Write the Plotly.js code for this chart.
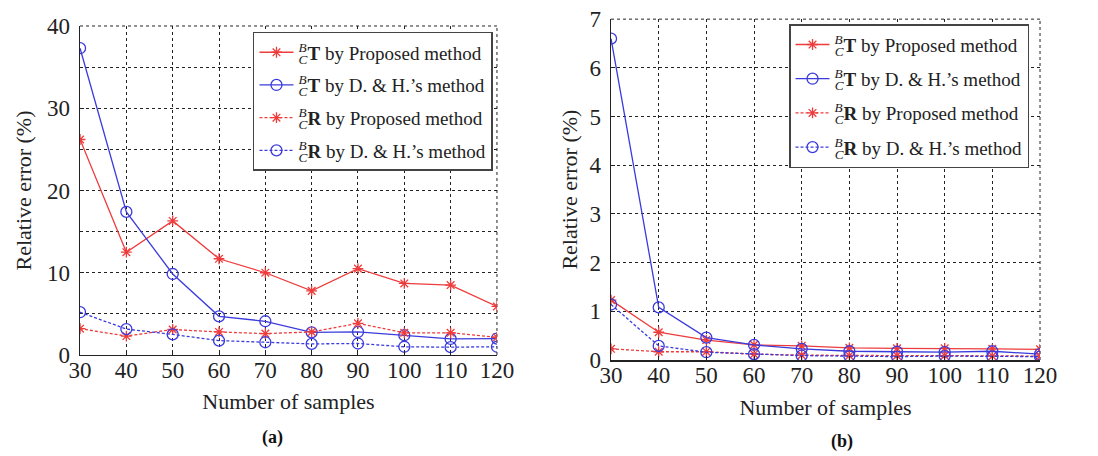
<!DOCTYPE html>
<html>
<head>
<meta charset="utf-8">
<script src="https://cdn.plot.ly/plotly-3.0.1.min.js"></script>
<style>html,body{margin:0;padding:0;background:#fff;}#chart{width:1098px;height:456px;}</style>
</head>
<body>
<div id="chart"></div>
<script>
// ---- data ----
const samples = [30, 40, 50, 60, 70, 80, 90, 100, 110, 120];
// panel (a)
const aTProposed = [26.2, 12.5, 16.3, 11.7, 10.0, 7.8, 10.5, 8.7, 8.5, 5.9];
const aTDH       = [37.3, 17.4, 9.85, 4.7, 4.1, 2.75, 2.8, 2.4, 1.95, 2.0];
const aRProposed = [3.2, 2.3, 3.1, 2.8, 2.6, 2.8, 3.85, 2.7, 2.7, 2.15];
const aRDH       = [5.2, 3.15, 2.5, 1.75, 1.55, 1.35, 1.4, 1.0, 0.95, 1.0];
// panel (b)
const bTProposed = [1.23, 0.57, 0.41, 0.31, 0.29, 0.25, 0.24, 0.24, 0.23, 0.22];
const bTDH       = [6.6, 1.08, 0.46, 0.31, 0.23, 0.18, 0.17, 0.16, 0.18, 0.12];
const bRProposed = [0.23, 0.17, 0.17, 0.12, 0.10, 0.09, 0.09, 0.09, 0.08, 0.08];
const bRDH       = [1.14, 0.29, 0.16, 0.12, 0.09, 0.08, 0.07, 0.08, 0.07, 0.07];

const xTicks = [30, 40, 50, 60, 70, 80, 90, 100, 110, 120];
const aYTicks = [0, 10, 20, 30, 40];
const bYTicks = [0, 1, 2, 3, 4, 5, 6, 7];

const seriesNames = [
  "<sup><span style='letter-spacing:-8px'><i>B</i></span></sup><sub><i>C</i></sub><b>T</b> by Proposed method",
  "<sup><span style='letter-spacing:-8px'><i>B</i></span></sup><sub><i>C</i></sub><b>T</b> by D. &amp; H.’s method",
  "<sup><span style='letter-spacing:-8px'><i>B</i></span></sup><sub><i>C</i></sub><b>R</b> by Proposed method",
  "<sup><span style='letter-spacing:-8px'><i>B</i></span></sup><sub><i>C</i></sub><b>R</b> by D. &amp; H.’s method"
];

// ---- styles ----
const RED = '#ee3b3b', BLUE = '#3b3bdd', INK = '#222';
const FONT = 'Liberation Serif, serif';
const styles = [
  {color: RED,  dash: 'solid', symbol: 'asterisk-open'},
  {color: BLUE, dash: 'solid', symbol: 'circle-open'},
  {color: RED,  dash: '3px,2px', symbol: 'asterisk-open'},
  {color: BLUE, dash: '3px,2px', symbol: 'circle-open'}
];

function mk(y, i, xa, ya, leg) {
  const s = styles[i];
  return {
    x: samples, y: y, type: 'scatter', mode: 'lines+markers',
    name: seriesNames[i], xaxis: xa, yaxis: ya, legend: leg,
    legendgroup: leg + i,
    line: {color: s.color, width: 1.3, dash: s.dash},
    marker: {symbol: s.symbol, size: s.symbol === 'circle-open' ? 11 : 9,
             color: s.color, line: {color: s.color, width: 1.3}}
  };
}

const traces = [
  mk(aTProposed, 0, 'x', 'y', 'legend'),
  mk(aTDH, 1, 'x', 'y', 'legend'),
  mk(aRProposed, 2, 'x', 'y', 'legend'),
  mk(aRDH, 3, 'x', 'y', 'legend'),
  mk(bTProposed, 0, 'x2', 'y2', 'legend2'),
  mk(bTDH, 1, 'x2', 'y2', 'legend2'),
  mk(bRProposed, 2, 'x2', 'y2', 'legend2'),
  mk(bRDH, 3, 'x2', 'y2', 'legend2')
];

const gridBase = {
  showgrid: true, gridcolor: INK, griddash: 'dot', gridwidth: 1,
  showline: true, linecolor: INK, linewidth: 1.5, mirror: false,
  zeroline: false, ticks: 'inside', ticklen: 4, tickcolor: INK,
  tickfont: {family: FONT, size: 23, color: INK}, automargin: false
};
const titleFont = {family: FONT, size: 22, color: INK};

const legendBase = {
  font: {family: FONT, size: 19, color: INK},
  bgcolor: '#fff', bordercolor: '#444', borderwidth: 1.5,
  xanchor: 'left', yanchor: 'top', itemwidth: 34
};

// dotted frame on the top and right edges of each plot area
function frame(xa, ya) {
  const ln = {color: INK, width: 1, dash: 'dot'};
  return [
    {type: 'line', xref: xa + ' domain', yref: ya + ' domain', x0: 0, x1: 1, y0: 1, y1: 1, line: ln, layer: 'below'},
    {type: 'line', xref: xa + ' domain', yref: ya + ' domain', x0: 1, x1: 1, y0: 0, y1: 1, line: ln, layer: 'below'}
  ];
}

const layout = {
  width: 1098, height: 456,
  margin: {l: 0, r: 0, t: 0, b: 0},
  paper_bgcolor: '#fff', plot_bgcolor: '#fff',
  font: {family: FONT, color: INK},
  showlegend: true,
  xaxis: Object.assign({}, gridBase, {
    domain: [0.0729, 0.4526], range: [30, 120], tickvals: xTicks, anchor: 'y',
    ticklabelstandoff: -6,
    title: {text: 'Number of samples', font: titleFont, standoff: 11}
  }),
  yaxis: Object.assign({}, gridBase, {
    domain: [0.2215, 0.943], range: [0, 40], tickvals: aYTicks, anchor: 'x',
    ticklabelstandoff: 4,
    minor: {dtick: 5, showgrid: true, gridcolor: INK, griddash: 'dot', gridwidth: 1},
    title: {text: 'Relative error (%)', font: titleFont, standoff: 9}
  }),
  xaxis2: Object.assign({}, gridBase, {
    domain: [0.5565, 0.9472], range: [30, 120], tickvals: xTicks, anchor: 'y2',
    ticklabelstandoff: -6,
    title: {text: 'Number of samples', font: titleFont, standoff: 12}
  }),
  yaxis2: Object.assign({}, gridBase, {
    domain: [0.2105, 0.958], range: [0, 7], tickvals: bYTicks, anchor: 'x2',
    ticklabelstandoff: 4,
    title: {text: 'Relative error (%)', font: titleFont, standoff: 5}
  }),
  shapes: frame('x', 'y').concat(frame('x2', 'y2')),
  legend: Object.assign({}, legendBase, {x: 0.2304, y: 0.93, tracegroupgap: 5}),
  legend2: Object.assign({}, legendBase, {x: 0.7186, y: 0.947, tracegroupgap: 6.5}),
  annotations: [
    {text: '<b>(a)</b>', xref: 'paper', yref: 'paper', x: 272 / 1098, y: 1 - 437 / 456,
     xanchor: 'center', yanchor: 'middle', showarrow: false, font: {family: FONT, size: 18, color: '#111'}},
    {text: '<b>(b)</b>', xref: 'paper', yref: 'paper', x: 842 / 1098, y: 1 - 441 / 456,
     xanchor: 'center', yanchor: 'middle', showarrow: false, font: {family: FONT, size: 18, color: '#111'}}
  ]
};

Plotly.newPlot('chart', traces, layout, {displayModeBar: false, staticPlot: true});
</script>
</body>
</html>
